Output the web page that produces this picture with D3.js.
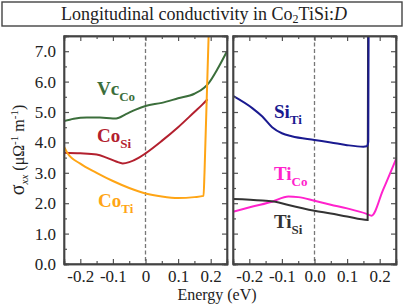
<!DOCTYPE html>
<html>
<head>
<meta charset="utf-8">
<script src="https://cdn.jsdelivr.net/npm/d3@7"></script>
<style>
  body { margin: 0; background: #fff; }
  svg { display: block; font-family: "Liberation Serif", "Times New Roman", serif; }
  .axis path { stroke: #444; stroke-width: 1.4; }
  .axis line { stroke: #555; stroke-width: 1.2; }
  .axis text { font-family: "Liberation Serif", "Times New Roman", serif; font-size: 17px; fill: #222; }
</style>
</head>
<body>
<div id="chart"></div>
<script>
// energy (eV) / sigma_xx pairs
var vcCo = [[-0.25,4.7],[-0.22,4.78],[-0.18,4.82],[-0.14,4.82],[-0.1,4.79],[-0.09,4.79],[-0.06,4.93],[-0.03,5.08],[0,5.2],[0.05,5.3],[0.1,5.45],[0.15,5.6],[0.18,5.8],[0.195,5.97],[0.22,6.4],[0.25,7.0]];
var coSi = [[-0.25,3.66],[-0.2,3.64],[-0.15,3.6],[-0.12,3.5],[-0.09,3.37],[-0.07,3.31],[-0.05,3.35],[-0.02,3.5],[0,3.64],[0.05,4.05],[0.1,4.5],[0.15,5.0],[0.175,5.25],[0.19,5.42]];
var coTi = [[-0.25,3.86],[-0.24,3.66],[-0.2,3.3],[-0.15,3.0],[-0.1,2.73],[-0.05,2.5],[0,2.32],[0.05,2.22],[0.1,2.17],[0.15,2.2],[0.178,2.24],[0.181,3.0],[0.195,8.0]];
var siTi = [[-0.25,5.53],[-0.19,5.12],[-0.16,4.85],[-0.13,4.5],[-0.1,4.3],[-0.07,4.2],[0,4.08],[0.05,4.0],[0.1,3.91],[0.15,3.86],[0.16,3.87],[0.165,4.02],[0.166,8.0]];
var tiSi = [[-0.25,2.14],[-0.16,2.09],[-0.12,2.05],[-0.08,1.94],[0,1.75],[0.05,1.66],[0.1,1.56],[0.163,1.45],[0.1645,8.0]];
var tiCo = [[-0.25,1.72],[-0.19,1.89],[-0.13,2.05],[-0.08,2.22],[-0.05,2.2],[0,2.08],[0.05,1.95],[0.1,1.83],[0.16,1.65],[0.175,1.59],[0.21,2.43],[0.25,3.45]];

var xTicks = [-0.2, -0.1, 0, 0.1, 0.2];
var xLabelsLeft = ["-0.2", "-0.1", "0", "0.1", "0.2"];
var xLabelsRight = ["-0.2", "-0.1", "0.0", "0.1", "0.2"];
var xMinor = [-0.25, -0.15, -0.05, 0.05, 0.15, 0.25];
var yTicks = [0, 1, 2, 3, 4, 5, 6, 7];
var yLabels = ["0.0", "1.0", "2.0", "3.0", "4.0", "5.0", "6.0", "7.0"];
var yMinor = [0.5, 1.5, 2.5, 3.5, 4.5, 5.5, 6.5, 7.5];

var W = 406, H = 304;
var plotTop = 36, plotBottom = 264;
var panels = [
  { x0: 64, x1: 227, labels: xLabelsLeft, ticky: true,
    series: [
      { data: vcCo, color: "#3b6e3b", name: "Vc", sub: "Co", lx: 97, ly: 95 },
      { data: coSi, color: "#b3202e", name: "Co", sub: "Si", lx: 97, ly: 142 },
      { data: coTi, color: "#ffa515", name: "Co", sub: "Ti", lx: 98, ly: 207 }
    ] },
  { x0: 233, x1: 396, labels: xLabelsRight, ticky: false,
    series: [
      { data: tiCo, color: "#ff22cc", name: "Ti", sub: "Co", lx: 274, ly: 180 },
      { data: tiSi, color: "#333333", name: "Ti", sub: "Si", lx: 274, ly: 228 },
      { data: siTi, color: "#1a1a90", name: "Si", sub: "Ti", lx: 274, ly: 118 }
    ] }
];

var svg = d3.select("#chart").append("svg")
  .attr("width", W)
  .attr("height", H);

// title box
svg.append("rect")
  .attr("x", 2).attr("y", 2)
  .attr("width", 400).attr("height", 24)
  .attr("fill", "#fff")
  .attr("stroke", "#444")
  .attr("stroke-width", 1.4);

var title = svg.append("text")
  .attr("x", 204).attr("y", 19.5)
  .attr("text-anchor", "middle")
  .attr("font-size", 18)
  .attr("fill", "#222");
title.append("tspan").text("Longitudinal conductivity in Co");
title.append("tspan").attr("font-size", 12).attr("dy", 3).text("2");
title.append("tspan").attr("dy", -3).text("TiSi:");
title.append("tspan").attr("font-style", "italic").text("D");

var y = d3.scaleLinear().domain([0, 7.5]).range([plotBottom, plotTop]);

panels.forEach(function(p, i) {
  var x = d3.scaleLinear().domain([-0.25, 0.25]).range([p.x0, p.x1]);
  var g = svg.append("g");

  g.append("defs").append("clipPath")
    .attr("id", "clip" + i)
    .append("rect")
    .attr("x", p.x0).attr("y", plotTop)
    .attr("width", p.x1 - p.x0).attr("height", plotBottom - plotTop);

  // dashed Fermi level
  g.append("line")
    .attr("x1", x(0)).attr("x2", x(0))
    .attr("y1", plotTop).attr("y2", plotBottom)
    .attr("stroke", "#777")
    .attr("stroke-width", 1.3)
    .attr("stroke-dasharray", "4,2.5");

  var line = d3.line()
    .x(function(d) { return x(d[0]); })
    .y(function(d) { return y(d[1]); })
    .curve(d3.curveMonotoneX);

  var lines = g.append("g").attr("clip-path", "url(#clip" + i + ")");
  p.series.forEach(function(s) {
    lines.append("path")
      .datum(s.data)
      .attr("d", line)
      .attr("fill", "none")
      .attr("stroke", s.color)
      .attr("stroke-width", 2);
  });

  // axes, ticks pointing inwards on all four sides
  g.append("g").attr("class", "axis")
    .attr("transform", "translate(0," + plotBottom + ")")
    .call(d3.axisBottom(x).tickValues(xTicks).tickSize(-5).tickPadding(6)
      .tickFormat(function(d, k) { return p.labels[k]; }));
  g.append("g").attr("class", "axis")
    .attr("transform", "translate(0," + plotBottom + ")")
    .call(d3.axisBottom(x).tickValues(xMinor).tickSize(-3).tickFormat(""));
  g.append("g").attr("class", "axis")
    .attr("transform", "translate(0," + plotTop + ")")
    .call(d3.axisTop(x).tickValues(xTicks).tickSize(-5).tickFormat(""));
  g.append("g").attr("class", "axis")
    .attr("transform", "translate(0," + plotTop + ")")
    .call(d3.axisTop(x).tickValues(xMinor).tickSize(-3).tickFormat(""));

  g.append("g").attr("class", "axis")
    .attr("transform", "translate(" + p.x0 + ",0)")
    .call(d3.axisLeft(y).tickValues(yTicks).tickSize(-5).tickPadding(8)
      .tickFormat(function(d, k) { return p.ticky ? yLabels[k] : ""; }));
  g.append("g").attr("class", "axis")
    .attr("transform", "translate(" + p.x0 + ",0)")
    .call(d3.axisLeft(y).tickValues(yMinor).tickSize(-3).tickFormat(""));
  g.append("g").attr("class", "axis")
    .attr("transform", "translate(" + p.x1 + ",0)")
    .call(d3.axisRight(y).tickValues(yTicks).tickSize(-5).tickFormat(""));
  g.append("g").attr("class", "axis")
    .attr("transform", "translate(" + p.x1 + ",0)")
    .call(d3.axisRight(y).tickValues(yMinor).tickSize(-3).tickFormat(""));

  g.selectAll(".axis path").attr("fill", "none");

  g.append("rect")
    .attr("x", p.x0).attr("y", plotTop)
    .attr("width", p.x1 - p.x0).attr("height", plotBottom - plotTop)
    .attr("fill", "none")
    .attr("stroke", "#444")
    .attr("stroke-width", 1.4);

  // curve labels
  p.series.forEach(function(s) {
    var t = g.append("text")
      .attr("x", s.lx).attr("y", s.ly)
      .attr("fill", s.color)
      .attr("font-weight", "bold")
      .attr("font-size", 19);
    t.append("tspan").text(s.name);
    t.append("tspan").attr("font-size", 13).attr("dy", 6).text(s.sub);
  });
});

// axis titles
svg.append("text")
  .attr("x", 217).attr("y", 300)
  .attr("text-anchor", "middle")
  .attr("font-size", 16)
  .attr("fill", "#222")
  .text("Energy (eV)");

var yl = svg.append("text")
  .attr("transform", "translate(24,150) rotate(-90)")
  .attr("text-anchor", "middle")
  .attr("font-size", 16)
  .attr("fill", "#222");
yl.append("tspan").attr("font-size", 20).text("σ");
yl.append("tspan").attr("font-size", 11).attr("font-style", "italic").attr("dy", 4).text("xx");
yl.append("tspan").attr("dy", -4).text(" (μΩ");
yl.append("tspan").attr("font-size", 11).attr("dy", -6).text("-1");
yl.append("tspan").attr("dy", 6).text(" m");
yl.append("tspan").attr("font-size", 11).attr("dy", -6).text("-1");
yl.append("tspan").attr("dy", 6).text(")");
</script>
</body>
</html>
